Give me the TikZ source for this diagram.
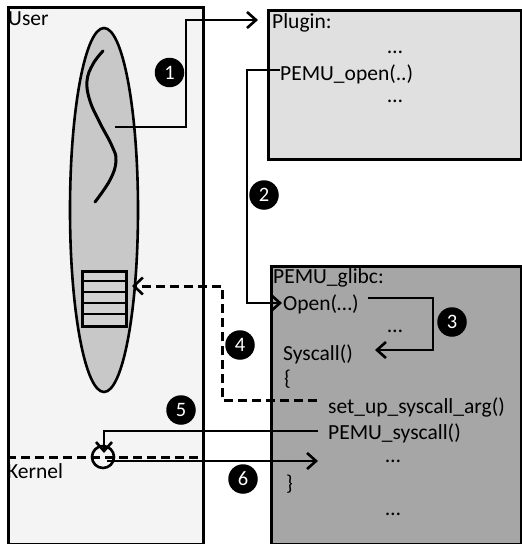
\documentclass[tikz,border=0pt]{standalone}
\usepackage{fontspec}
\setmainfont{Carlito}
\usetikzlibrary{arrows.meta,shapes.geometric}
\definecolor{userbg}{HTML}{F4F4F4}
\definecolor{procbg}{HTML}{C8C8C8}
\definecolor{stackbg}{HTML}{D2D2D2}
\definecolor{pluginbg}{HTML}{E0E0E0}
\definecolor{glibcbg}{HTML}{A6A6A6}
\begin{document}
\begin{tikzpicture}[x=1pt,y=-1pt,
  txt/.style={font=\fontsize{21.5}{24}\selectfont, inner sep=0pt, anchor=base west},
  dots/.style={font=\fontsize{21.5}{24}\selectfont, inner sep=0pt, anchor=base},
  num/.style={circle, fill=black, text=white, minimum size=29.5pt, inner sep=0pt,
    font=\fontsize{20.5}{20.5}\selectfont},
  panel/.style={draw=black, anchor=north west, inner sep=0pt},
  flow/.style={line width=2.6pt, -{Straight Barb[length=9pt,width=16pt]}},
  dflow/.style={line width=3pt, dash pattern=on 9pt off 5pt,
    -{Straight Barb[length=9pt,width=17pt,line width=2.6pt]}},
  plain/.style={line width=2.6pt}]
\useasboundingbox (0,0) rectangle (522,544);

% address spaces and code panels
\node[panel, fill=userbg, line width=2.8pt, minimum width=195pt, minimum height=537pt] (user) at (7,6) {};
\node[panel, fill=pluginbg, line width=3pt, minimum width=253pt, minimum height=149pt] (plugin) at (267,9) {};
\node[panel, fill=glibcbg, line width=3.4pt, minimum width=250pt, minimum height=278pt] (glibc) at (270,265) {};

% process and its stack
\node[ellipse, draw, fill=procbg, line width=2.6pt, minimum width=68pt, minimum height=364pt, inner sep=0pt] (proc) at (104,210) {};
\node[panel, fill=stackbg, line width=2.6pt, minimum width=44pt, minimum height=55pt] (stack) at (81,270) {};
\foreach \r in {281,292,303,314} \draw[line width=2.4pt] (81,\r) -- (125,\r);
\draw[line width=3pt, line cap=round] plot[smooth, tension=0.7] coordinates
  {(103,51) (93,64) (87,81) (90,101) (100,123) (112,146) (116,161) (110,180) (95,202)};

% labels
\node[txt] (userlbl) at (8,25) {User};
\node[txt] (kernlbl) at (7,478) {Kernel};
\node[txt] (pluglbl) at (272,28) {Plugin:};
\node[dots] (pd1) at (395,53) {…};
\node[txt] (pemuopen) at (280,80) {PEMU\_open(..)};
\node[dots] (pd2) at (395,102) {…};
\node[txt] (glibclbl) at (273,283) {PEMU\_glibc:};
\node[txt] (open) at (283,310) {Open(…)};
\node[dots] (gd1) at (395,332) {…};
\node[txt] (syscall) at (283,360) {Syscall()};
\node[txt] (lbrace) at (284,385) {\{};
\node[txt] (setup) at (328,413) {set\_up\_syscall\_arg()};
\node[txt] (pemusys) at (328,439) {PEMU\_syscall()};
\node[dots] (gd2) at (393,462) {…};
\node[txt] (rbrace) at (286,490) {\}};
\node[dots] (gd3) at (393,515) {…};

% user/kernel boundary and trap point
\coordinate (kl) at (7,457);
\coordinate (kr) at (199,457);
\draw[line width=3pt, dash pattern=on 9pt off 5pt] (kl) -- (kr);
\node[circle, draw, line width=2.6pt, minimum size=22pt, inner sep=0pt] (trap) at (103,457) {};

% connector end points
\coordinate (callsite) at (115,127);
\coordinate (plugin in) at (258,20);
\coordinate (open ref) at (280,70);
\coordinate (open in) at (282,303);
\coordinate (open out) at (368,298);
\coordinate (syscall in) at (375,350);
\coordinate (arg out) at (317,400);
\coordinate (stack in) at (132,286);
\coordinate (pemusys out) at (318,431);
\coordinate (trap in) at (104,453);
\coordinate (trap out) at (107,461);
\coordinate (ret in) at (318,461);

% steps
\draw[flow] (callsite) -- ++(71,0) |- (plugin in);
\draw[flow] (open ref) -- ++(-33,0) |- (open in);
\draw[flow] (open out) -- ++(65,0) |- (syscall in);
\draw[dflow] (arg out) -- ++(-95,0) |- (stack in);
\draw[flow] (pemusys out) -| (trap in);
\draw[flow] (trap out) -- (ret in);

% step numbers
\node[num] (n1) at (169.5,72.5) {1};
\node[num] (n2) at (264,195) {2};
\node[num] (n3) at (452,322) {3};
\node[num] (n4) at (240,345) {4};
\node[num] (n5) at (181,410) {5};
\node[num] (n6) at (243,479) {6};
\end{tikzpicture}
\end{document}
